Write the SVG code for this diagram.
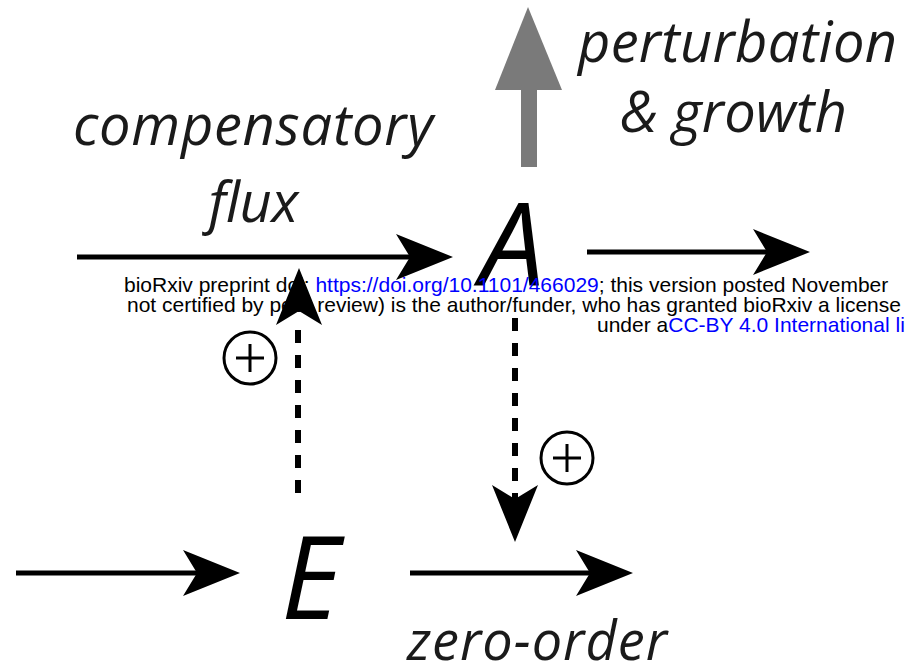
<svg xmlns="http://www.w3.org/2000/svg" xmlns:xlink="http://www.w3.org/1999/xlink" width="908" height="670" viewBox="0 0 908 670">
<style>
.lbl{font-family:"Open Sans","Noto Sans","DejaVu Sans",sans-serif;font-style:italic;fill:#1a1a1a;font-size:56px}
.node{font-family:"Open Sans","Noto Sans","DejaVu Sans",sans-serif;font-style:italic;fill:#000;font-size:115px}
.ln{stroke:#000;stroke-width:5;fill:none}
.dash{stroke:#000;stroke-width:6;fill:none;stroke-dasharray:13 12}
.hd{fill:#000}
.sym{stroke:#000;stroke-width:3;fill:none}
.hdr{font-family:"Liberation Sans",Arial,sans-serif;font-size:21px;fill:#000}
.url{fill:#0000ff}
</style>
<defs>
<path id="head" d="M0,0 L-57,-23 L-43,0 L-57,23 Z"/>
</defs>
<rect width="908" height="670" fill="#fff"/>

<g id="perturbation">
<rect x="521" y="80" width="16" height="87" fill="#7a7a7a"/>
<polygon points="528,7 562,90 495,90" fill="#7a7a7a"/>
<text class="lbl" x="578" y="62" textLength="319">perturbation</text>
<text class="lbl" x="620" y="132" textLength="227">&amp; growth</text>
</g>

<g id="compensatory-label">
<text class="lbl" x="73" y="145" textLength="360">compensatory</text>
<text class="lbl" x="208" y="222" textLength="90">flux</text>
</g>

<g id="node-A"><text class="node" x="480" y="285">A</text></g>
<g id="node-E"><text class="node" x="281" y="619">E</text></g>

<g id="zero-order-label"><text class="lbl" x="407" y="660" style="font-size:54px" textLength="260">zero-order</text></g>

<g id="header">
<text class="hdr" x="124" y="292">bioRxiv preprint doi: <tspan class="url">https://doi.org/10.1101/466029</tspan>; this version posted November</text>
<text class="hdr" x="127" y="312">not certified by peer review) is the author/funder, who has granted bioRxiv a license</text>
<text class="hdr" x="597" y="332">under a<tspan class="url">CC-BY 4.0 International li</tspan></text>
</g>

<g id="connectors">
<line class="ln" x1="77" y1="257" x2="412" y2="257"/>
<use href="#head" class="hd" transform="translate(453,257)"/>
<line class="ln" x1="587" y1="252" x2="768" y2="252"/>
<use href="#head" class="hd" transform="translate(810,252)"/>
<line class="ln" x1="16" y1="573" x2="198" y2="573"/>
<use href="#head" class="hd" transform="translate(240,573)"/>
<line class="ln" x1="410" y1="573" x2="591" y2="573"/>
<use href="#head" class="hd" transform="translate(633,573)"/>
<line class="dash" x1="298" y1="493" x2="298" y2="318"/>
<use href="#head" class="hd" transform="translate(299,268) rotate(-90)"/>
<line class="dash" x1="515" y1="318" x2="515" y2="500"/>
<use href="#head" class="hd" transform="translate(515,542) rotate(90)"/>
</g>

<g id="plus-left">
<circle class="sym" cx="250" cy="358" r="26"/>
<line class="sym" x1="236" y1="358" x2="264" y2="358"/>
<line class="sym" x1="250" y1="344" x2="250" y2="372"/>
</g>
<g id="plus-right">
<circle class="sym" cx="567" cy="458" r="26"/>
<line class="sym" x1="553" y1="458" x2="581" y2="458"/>
<line class="sym" x1="567" y1="444" x2="567" y2="472"/>
</g>
</svg>
